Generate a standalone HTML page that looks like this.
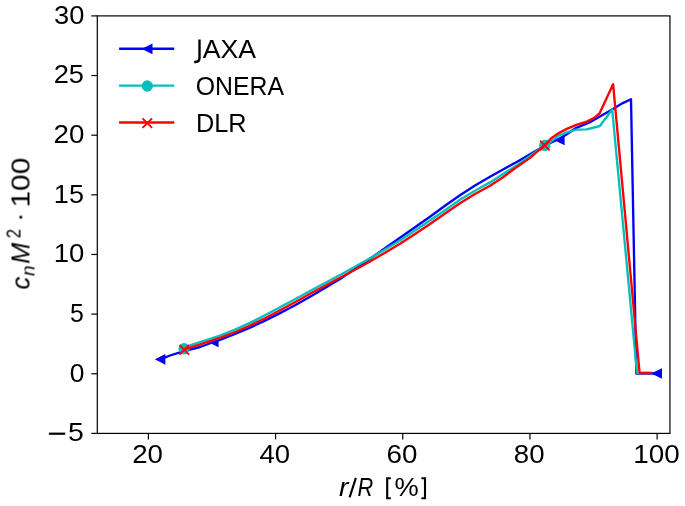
<!DOCTYPE html>
<html><head><meta charset="utf-8"><style>
html,body{margin:0;padding:0;background:#fff;width:685px;height:506px;overflow:hidden}
svg{display:block;font-family:"Liberation Sans", sans-serif}
text{-webkit-font-smoothing:antialiased}
</style></head><body>
<svg width="685" height="506" viewBox="0 0 685 506">
<rect width="685" height="506" fill="#fff"/>
<g clip-path="url(#clip)">
<polyline points="160.4,359.3 170.0,355.5 180.0,352.4 190.0,349.7 200.0,347.0 213.7,342.0 220.0,339.8 235.0,334.0 250.0,327.7 265.0,320.6 280.0,313.1 295.0,305.2 310.0,296.7 325.0,288.0 340.0,278.9 355.0,269.0 370.0,258.8 385.0,248.3 400.0,237.8 415.0,227.2 430.0,216.7 445.0,205.8 460.0,195.2 475.0,185.6 490.0,176.8 503.0,169.5 515.0,162.9 530.0,154.2 545.0,145.5 560.0,138.5 566.8,134.2 576.3,127.8 589.4,122.5 600.8,116.0 610.0,110.7 622.8,103.1 631.0,99.2 636.3,373.5 657.0,373.5" fill="none" stroke="#0000ff" stroke-width="2.35" stroke-linejoin="round" stroke-linecap="butt"/>
<path d="M156.30,359.30 L164.70,355.10 L164.70,363.50 Z" fill="#0000ff" stroke="#0000ff" stroke-width="1.4" stroke-linejoin="miter"/>
<path d="M209.50,342.00 L217.90,337.80 L217.90,346.20 Z" fill="#0000ff" stroke="#0000ff" stroke-width="1.4" stroke-linejoin="miter"/>
<path d="M555.50,140.00 L563.90,135.80 L563.90,144.20 Z" fill="#0000ff" stroke="#0000ff" stroke-width="1.4" stroke-linejoin="miter"/>
<polyline points="184.2,348.8 190.0,345.4 200.0,342.0 220.0,335.6 235.0,329.5 250.0,322.9 265.0,315.2 280.0,307.2 295.0,299.3 310.0,291.0 325.0,283.0 340.0,275.0 355.0,266.8 370.0,258.3 385.0,249.5 400.0,240.4 415.0,230.6 430.0,220.6 445.0,210.2 460.0,199.8 475.0,190.8 490.0,182.4 503.0,174.0 515.0,166.6 530.0,156.0 544.5,145.2 550.0,142.4 557.9,135.8 566.8,132.4 576.3,129.6 586.8,129.3 599.9,126.0 612.2,109.5 637.0,373.0 652.0,373.0" fill="none" stroke="#00bfbf" stroke-width="2.35" stroke-linejoin="round" stroke-linecap="butt"/>
<circle cx="184.10" cy="348.80" r="5.2" fill="#00bfbf" stroke="#00bfbf" stroke-width="1.0"/>
<circle cx="544.80" cy="145.40" r="5.2" fill="#00bfbf" stroke="#00bfbf" stroke-width="1.0"/>
<polyline points="184.2,349.5 190.0,347.6 200.0,344.4 220.0,337.8 235.0,332.0 250.0,325.5 265.0,318.2 280.0,310.3 295.0,302.2 310.0,293.8 325.0,285.8 340.0,277.8 355.0,269.8 370.0,261.5 385.0,252.7 400.0,243.7 415.0,233.9 430.0,223.9 445.0,213.5 460.0,203.2 475.0,194.0 490.0,185.7 503.0,177.3 515.0,168.3 530.0,157.9 544.5,145.2 552.0,137.6 558.8,133.0 566.8,128.9 576.3,124.9 586.8,121.6 593.8,118.1 599.5,113.5 613.1,84.2 639.6,373.0 652.0,373.0" fill="none" stroke="#ff0000" stroke-width="2.35" stroke-linejoin="round" stroke-linecap="butt"/>
<path d="M179.50,345.00 L189.10,354.60 M179.50,354.60 L189.10,345.00" stroke="#ff0000" stroke-width="1.9" fill="none"/>
<path d="M540.00,140.70 L549.60,150.30 M540.00,150.30 L549.60,140.70" stroke="#ff0000" stroke-width="1.9" fill="none"/>
<path d="M652.90,373.50 L661.30,369.30 L661.30,377.70 Z" fill="#0000ff" stroke="#0000ff" stroke-width="1.4" stroke-linejoin="miter"/>
<line x1="119.1" y1="48.7" x2="174.2" y2="48.7" stroke="#0000ff" stroke-width="2.35"/>
<path d="M143.40,48.90 L151.80,44.70 L151.80,53.10 Z" fill="#0000ff" stroke="#0000ff" stroke-width="1.4" stroke-linejoin="miter"/>
<line x1="119.1" y1="85.6" x2="174.2" y2="85.6" stroke="#00bfbf" stroke-width="2.35"/>
<circle cx="147.30" cy="86.00" r="5.2" fill="#00bfbf" stroke="#00bfbf" stroke-width="1.0"/>
<line x1="119.1" y1="122.5" x2="174.2" y2="122.5" stroke="#ff0000" stroke-width="2.35"/>
<path d="M142.50,118.30 L152.10,127.90 M142.50,127.90 L152.10,118.30" stroke="#ff0000" stroke-width="1.9" fill="none"/>
</g>
<clipPath id="clip"><rect x="97.3" y="15.9" width="572.6500000000001" height="417.5"/></clipPath>
<rect x="97.3" y="15.9" width="572.6500000000001" height="417.5" fill="none" stroke="#000" stroke-width="1.2"/>
<line x1="148.40" y1="433.4" x2="148.40" y2="439.4" stroke="#000" stroke-width="1.2"/>
<line x1="275.58" y1="433.4" x2="275.58" y2="439.4" stroke="#000" stroke-width="1.2"/>
<line x1="402.76" y1="433.4" x2="402.76" y2="439.4" stroke="#000" stroke-width="1.2"/>
<line x1="529.94" y1="433.4" x2="529.94" y2="439.4" stroke="#000" stroke-width="1.2"/>
<line x1="657.12" y1="433.4" x2="657.12" y2="439.4" stroke="#000" stroke-width="1.2"/>
<line x1="97.3" y1="15.90" x2="91.3" y2="15.90" stroke="#000" stroke-width="1.2"/>
<line x1="97.3" y1="75.54" x2="91.3" y2="75.54" stroke="#000" stroke-width="1.2"/>
<line x1="97.3" y1="135.19" x2="91.3" y2="135.19" stroke="#000" stroke-width="1.2"/>
<line x1="97.3" y1="194.83" x2="91.3" y2="194.83" stroke="#000" stroke-width="1.2"/>
<line x1="97.3" y1="254.47" x2="91.3" y2="254.47" stroke="#000" stroke-width="1.2"/>
<line x1="97.3" y1="314.11" x2="91.3" y2="314.11" stroke="#000" stroke-width="1.2"/>
<line x1="97.3" y1="373.76" x2="91.3" y2="373.76" stroke="#000" stroke-width="1.2"/>
<line x1="97.3" y1="433.40" x2="91.3" y2="433.40" stroke="#000" stroke-width="1.2"/>
<g fill="#000" style="will-change:transform">
<text x="54.05" y="23.80" font-size="26.60" textLength="30.35" lengthAdjust="spacingAndGlyphs">30</text>
<text x="53.65" y="83.44" font-size="26.60" textLength="30.31" lengthAdjust="spacingAndGlyphs">25</text>
<text x="53.63" y="143.09" font-size="26.60" textLength="30.79" lengthAdjust="spacingAndGlyphs">20</text>
<text x="53.88" y="202.73" font-size="26.60" textLength="30.07" lengthAdjust="spacingAndGlyphs">15</text>
<text x="53.84" y="262.37" font-size="26.60" textLength="30.57" lengthAdjust="spacingAndGlyphs">10</text>
<text x="70.03" y="322.01" font-size="26.60" textLength="13.83" lengthAdjust="spacingAndGlyphs">5</text>
<text x="69.71" y="381.66" font-size="26.60" textLength="14.66" lengthAdjust="spacingAndGlyphs">0</text>
<rect x="48.9" y="432.60" width="16.4" height="2.2" fill="#000"/>
<text x="67.96" y="441.30" font-size="26.60" textLength="15.84" lengthAdjust="spacingAndGlyphs">5</text>
<text x="132.23" y="463.10" font-size="26.60" textLength="30.79" lengthAdjust="spacingAndGlyphs">20</text>
<text x="259.56" y="463.10" font-size="26.60" textLength="30.64" lengthAdjust="spacingAndGlyphs">40</text>
<text x="386.49" y="463.10" font-size="26.60" textLength="30.90" lengthAdjust="spacingAndGlyphs">60</text>
<text x="513.83" y="463.10" font-size="26.60" textLength="30.73" lengthAdjust="spacingAndGlyphs">80</text>
<text x="633.18" y="463.10" font-size="26.60" textLength="46.52" lengthAdjust="spacingAndGlyphs">100</text>
<text x="195.73" y="94.60" font-size="26.60" textLength="88.26" lengthAdjust="spacingAndGlyphs">ONERA</text>
<text x="195.88" y="131.50" font-size="26.60" textLength="50.63" lengthAdjust="spacingAndGlyphs">DLR</text>
<text x="202.65" y="57.70" font-size="26.60" textLength="53.30" lengthAdjust="spacingAndGlyphs">AXA</text>
<path d="M199.5,39.4 V58.0 Q199.5,62.0 195.3,62.0 H194.2" fill="none" stroke="#000" stroke-width="2.4"/>
<text x="338.93" y="495.50" font-size="26.60" font-style="italic" textLength="9.42" lengthAdjust="spacingAndGlyphs">r</text>
<text x="357.53" y="495.50" font-size="26.60" font-style="italic" textLength="15.74" lengthAdjust="spacingAndGlyphs">R</text>
<text x="394.53" y="495.50" font-size="26.60" textLength="24.24" lengthAdjust="spacingAndGlyphs">%</text>
<line x1="349.6" y1="497.4" x2="355.9" y2="477.9" stroke="#000" stroke-width="2.1"/>
<path d="M390.8,478.2 H387.2 V498.2 H390.8" fill="none" stroke="#000" stroke-width="2.1"/>
<path d="M421.4,478.2 H425.0 V498.2 H421.4" fill="none" stroke="#000" stroke-width="2.1"/>
<g transform="translate(29.5,289.5) rotate(-90)"><text x="-0.04" y="0.00" font-size="26.60" font-style="italic" textLength="12.83" lengthAdjust="spacingAndGlyphs">c</text><text x="13.58" y="4.60" font-size="18.62" font-style="italic" textLength="10.58" lengthAdjust="spacingAndGlyphs">n</text><text x="25.63" y="0.00" font-size="26.60" font-style="italic" textLength="20.97" lengthAdjust="spacingAndGlyphs">M</text><text x="51.26" y="-9.40" font-size="19.60" textLength="9.28" lengthAdjust="spacingAndGlyphs">2</text><circle cx="72.3" cy="-8.8" r="1.5" fill="#000"/><text x="81.92" y="0.00" font-size="26.60" textLength="49.84" lengthAdjust="spacingAndGlyphs">100</text></g>
</g>
</svg>
</body></html>
